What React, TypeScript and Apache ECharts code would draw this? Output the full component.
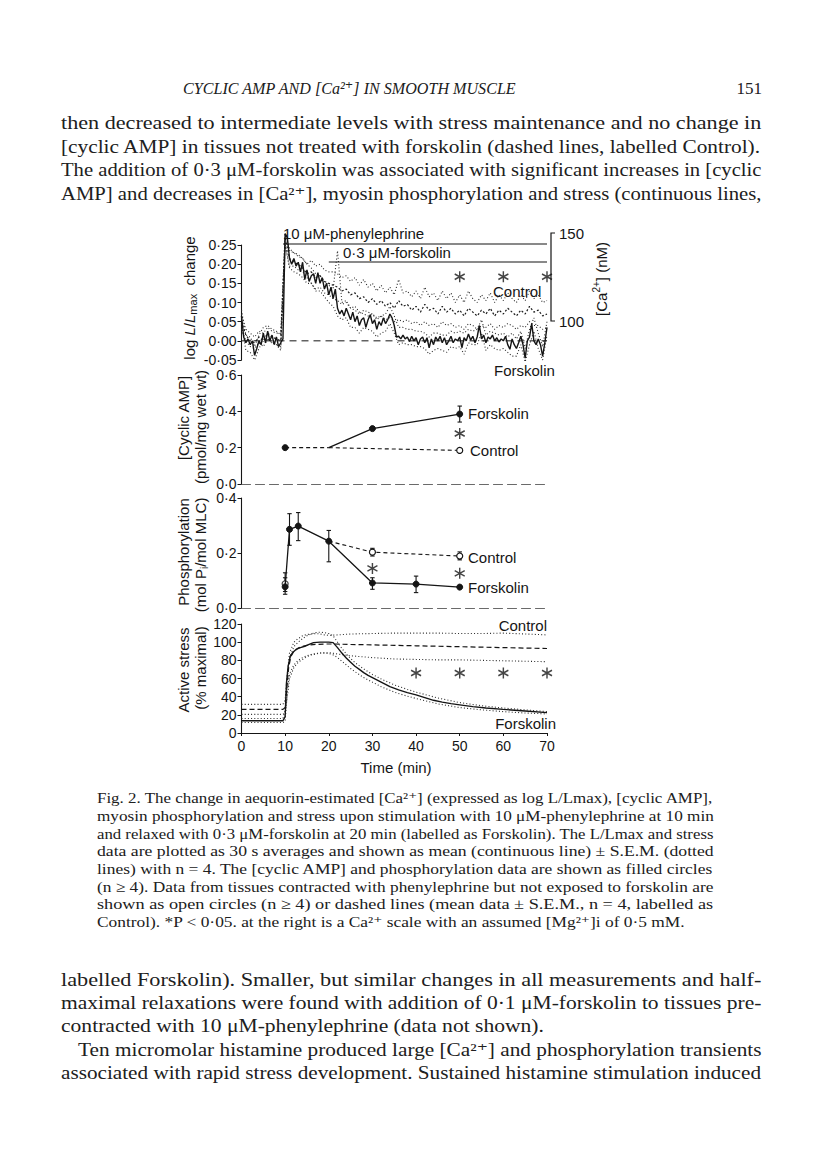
import React, { useEffect, useRef } from 'react';
import * as echarts from 'echarts';

const W = 816;
const H = 1167;
const SERIF = '"Liberation Serif", "DejaVu Serif", serif';
const SANS = '"Liberation Sans", Arial, sans-serif';
const INK = '#151515';
const LBL = 15; // label font size in the figure

// ---------------- Panel 1: aequorin light, log L/Lmax change ----------------
const caStep = 0.5; // 30 s averages (min)
const caForskMean = [
  0.065, 0.01, -0.005, 0.005, -0.01, 0.0, -0.038, -0.02, 0.0, -0.01,
  0.02, -0.005, 0.025, 0.0, 0.015, -0.01, 0.01, -0.015, -0.005, 0.005,
  0.28, 0.27, 0.215, 0.2, 0.215, 0.195, 0.205, 0.18, 0.205, 0.16,
  0.185, 0.155, 0.17, 0.175, 0.15, 0.178, 0.15, 0.165, 0.135, 0.15,
  0.12, 0.14, 0.11, 0.135, 0.085, 0.07, 0.08, 0.065, 0.085, 0.07,
  0.055, 0.075, 0.05, 0.065, 0.04, 0.055, 0.06, 0.035, 0.055, 0.068,
  0.045, 0.055, 0.03, 0.05, 0.04, 0.06, 0.045, 0.055, 0.07, 0.06,
  0.04, 0.01, 0.012, 0.005, 0.015, 0.005, 0.01, -0.002, 0.012, 0.0,
  0.008, -0.01, 0.005, 0.01, -0.005, 0.008, -0.018, 0.005, -0.01, 0.01,
  0.0, 0.012, -0.005, 0.008, -0.01, 0.0, 0.012, -0.005, 0.005, 0.0,
  0.01, -0.018, 0.008, 0.0, 0.018, 0.002, 0.012, -0.005, 0.01, 0.04,
  0.005, 0.015, -0.005, 0.01, 0.005, 0.015, 0.0, 0.008, -0.003, 0.005,
  0.0, 0.012, -0.01, -0.022, 0.005, -0.01, -0.02, -0.005, 0.012, -0.01,
  -0.045, 0.0, 0.01, 0.045, 0.0, -0.01, 0.005, -0.01, -0.04, -0.005,
  0.035,
];
// one value per minute, 0..70
const caForskUpper = [
  0.08, 0.015, 0.01, -0.015, 0.015, 0.035, 0.04, 0.03, 0.025, 0.015,
  0.28, 0.235, 0.23, 0.22, 0.215, 0.2, 0.19, 0.175, 0.17, 0.155,
  0.145, 0.135, 0.235, 0.1, 0.105, 0.085, 0.08, 0.07, 0.08, 0.075,
  0.07, 0.055, 0.065, 0.07, 0.09, 0.065, 0.035, 0.035, 0.03, 0.03,
  0.025, 0.025, 0.02, 0.01, 0.02, 0.02, 0.015, 0.015, 0.025, 0.02,
  0.025, 0.02, 0.03, 0.025, 0.03, 0.055, 0.015, 0.025, 0.02, 0.015,
  0.02, 0.01, 0.02, 0.005, 0.025, -0.02, 0.03, 0.06, 0.02, -0.015,
  0.05,
];
const caForskLower = [
  0.045, -0.025, -0.03, -0.05, -0.02, 0.0, 0.005, -0.005, -0.01, -0.025,
  0.25, 0.195, 0.195, 0.185, 0.18, 0.165, 0.15, 0.13, 0.13, 0.115,
  0.1, 0.09, 0.065, 0.055, 0.06, 0.035, 0.035, 0.02, 0.035, 0.03,
  0.025, 0.01, 0.02, 0.025, 0.045, 0.02, -0.01, -0.005, -0.01, -0.01,
  -0.015, -0.015, -0.02, -0.035, -0.025, -0.02, -0.025, -0.03, -0.015, -0.02,
  -0.015, -0.035, -0.005, -0.01, -0.01, 0.02, -0.025, -0.01, -0.02, -0.025,
  -0.02, -0.03, -0.04, -0.04, -0.01, -0.055, -0.01, 0.025, -0.02, -0.05,
  0.015,
];
const caCtrlMean = [
  0.05, 0.015, 0.0, -0.005, 0.01, 0.0, 0.02, 0.01, 0.005, 0.0,
  0.27, 0.215, 0.205, 0.2, 0.19, 0.175, 0.18, 0.165, 0.17, 0.155,
  0.15, 0.145, 0.14, 0.13, 0.135, 0.12, 0.125, 0.11, 0.115, 0.1,
  0.11, 0.095, 0.105, 0.09, 0.1, 0.085, 0.105, 0.09, 0.095, 0.08,
  0.09, 0.075, 0.095, 0.08, 0.085, 0.07, 0.09, 0.075, 0.085, 0.07,
  0.08, 0.065, 0.085, 0.075, 0.065, 0.08, 0.07, 0.085, 0.065, 0.08,
  0.07, 0.085, 0.075, 0.065, 0.08, 0.07, 0.09, 0.075, 0.08, 0.065,
  0.07,
];
const caCtrlUpper = [
  0.07, 0.03, 0.02, 0.01, 0.025, 0.02, 0.035, 0.025, 0.02, 0.02,
  0.28, 0.24, 0.23, 0.225, 0.215, 0.2, 0.21, 0.195, 0.2, 0.185,
  0.18, 0.18, 0.175, 0.165, 0.17, 0.155, 0.165, 0.145, 0.16, 0.14,
  0.15, 0.13, 0.145, 0.125, 0.14, 0.12, 0.16, 0.125, 0.13, 0.115,
  0.13, 0.11, 0.14, 0.115, 0.125, 0.105, 0.13, 0.11, 0.125, 0.1,
  0.12, 0.1, 0.13, 0.11, 0.1, 0.12, 0.105, 0.125, 0.1, 0.12,
  0.105, 0.125, 0.11, 0.1, 0.12, 0.105, 0.13, 0.11, 0.12, 0.1,
  0.105,
];
const caCtrlLower = [
  0.03, 0.0, -0.015, -0.02, -0.005, -0.015, 0.005, -0.005, -0.01, -0.015,
  0.25, 0.19, 0.18, 0.175, 0.165, 0.15, 0.15, 0.135, 0.14, 0.125,
  0.12, 0.11, 0.105, 0.095, 0.1, 0.085, 0.09, 0.075, 0.07, 0.065,
  0.07, 0.06, 0.065, 0.055, 0.06, 0.05, 0.055, 0.05, 0.055, 0.045,
  0.05, 0.04, 0.05, 0.04, 0.045, 0.035, 0.05, 0.04, 0.045, 0.035,
  0.04, 0.03, 0.045, 0.04, 0.03, 0.04, 0.035, 0.045, 0.03, 0.04,
  0.035, 0.045, 0.04, 0.03, 0.04, 0.035, 0.05, 0.04, 0.04, 0.03,
  0.035,
];
const caBaselineX = [0, 70];
const caStars = [[50, 0.167], [60, 0.167], [70, 0.167]];
const caTicks = { min: -0.05, max: 0.25, interval: 0.05 };
const caScaleLabels = ['150', '100'];

// ---------------- Panel 2: cyclic AMP ----------------
const campBaseX = [10, 20];
const campBaseY = [0.2, 0.2];
const campForskX = [20, 30, 50];
const campForskY = [0.2, 0.305, 0.385];
const campCtrlX = [20, 50];
const campCtrlY = [0.2, 0.185];
const campErr = [[50, 0.341, 0.429]];
const campStars = [[50, 0.278]];

// ---------------- Panel 3: phosphorylation ----------------
const phosForskX = [10, 11, 13, 20, 30, 40, 50];
const phosForskY = [0.077, 0.286, 0.298, 0.243, 0.091, 0.087, 0.076];
const phosCtrlX = [20, 30, 50];
const phosCtrlY = [0.243, 0.203, 0.189];
const phosCtrlStart = [[10, 0.088]];
const phosErrX = [10, 10, 11, 13, 20, 30, 30, 40, 50];
const phosErrLo = [0.05, 0.06, 0.228, 0.245, 0.168, 0.068, 0.189, 0.056, 0.175];
const phosErrHi = [0.11, 0.128, 0.343, 0.347, 0.282, 0.11, 0.217, 0.116, 0.204];
const phosStars = [[30, 0.144], [50, 0.126]];

// ---------------- Panel 4: active stress ----------------
const stressFTime = [0, 9.5, 10, 10.3, 10.7, 11.2, 11.8, 12.5, 13.5, 14.5, 15.5, 16.5, 18, 20, 21, 22, 23, 24, 25, 26, 27, 28, 29, 30, 32, 34, 36, 38, 40, 42, 44, 46, 48, 50, 53, 56, 60, 65, 70];
const stressF = [13.5, 13.5, 18, 55, 74, 85, 89, 92, 94, 95.5, 97.5, 99.5, 100, 100, 99.5, 94, 88, 82.5, 78, 73.5, 70, 66.5, 63.5, 61, 56, 51, 47.5, 44.5, 42, 39, 36, 34, 32.3, 31, 29, 27.5, 26, 24.2, 22.4];
const stressCTime = [0, 9.5, 10, 10.4, 10.8, 11.3, 12, 13, 14, 15.5, 17, 19, 21, 25, 30, 35, 40, 45, 50, 55, 60, 65, 70];
const stressC = [26, 26, 28, 50, 72, 84, 90, 93.5, 95.5, 97, 97.5, 98, 98, 97.5, 97, 96.5, 96, 95.5, 95, 94.5, 94, 93.5, 93];
const stressCUpTime = [0, 9.5, 10, 10.5, 11, 12, 13, 14, 15, 16, 17, 18, 19, 20, 22, 25, 30, 35, 40, 45, 50, 55, 60, 65, 70];
const stressCUp = [31.5, 31.5, 36, 65, 88, 100, 104, 107, 108.5, 109, 109.5, 109, 108, 107.5, 108, 109, 109.5, 110, 110, 110, 109.5, 109.5, 110, 109, 108];
const stressCLoTime = [0, 9.5, 10, 10.5, 11, 12, 13, 14, 15, 16, 18, 20, 22, 25, 30, 35, 40, 45, 50, 55, 60, 65, 70];
const stressCLo = [20.5, 20.5, 22, 40, 60, 72, 78, 81, 84, 86, 88, 88.5, 87, 85, 83, 81.5, 81, 80.5, 80.5, 80, 79.5, 79, 78.5];
const stressFBandTime = [0, 9.5, 10, 10.5, 11, 12, 13, 14, 15, 16, 17, 18, 19, 20, 21, 22, 23, 24, 25, 26, 28, 30, 32, 35, 38, 40, 45, 50, 55, 60, 65, 70];
const stressFUp = [16, 16, 24, 62, 82, 95, 100, 104, 107, 109, 110.5, 111, 110.5, 109.5, 107, 100, 93, 87, 82, 77.5, 70.5, 64.5, 59.5, 53, 48, 45, 38.5, 33.5, 30, 27.5, 25.5, 23.5];
const stressFLo = [11.5, 11.5, 13, 45, 65, 75, 80, 83, 85, 86.5, 87.5, 88, 88, 87.5, 86, 83, 79, 75, 71, 67.5, 61, 56, 51, 45, 40.5, 38, 32, 28, 25.5, 23.5, 22, 21];
const stressStars = [[40, 66], [50, 66], [60, 66], [70, 66]];

// ---------------- Page text ----------------
const HEADER = 'CYCLIC AMP AND [Ca²⁺] IN SMOOTH MUSCLE';
const PAGE_NO = '151';
const PARA1 = [
  'then decreased to intermediate levels with stress maintenance and no change in',
  '[cyclic AMP] in tissues not treated with forskolin (dashed lines, labelled Control).',
  'The addition of 0·3 μM-forskolin was associated with significant increases in [cyclic',
  'AMP] and decreases in [Ca²⁺], myosin phosphorylation and stress (continuous lines,',
];
const CAPTION = [
  'Fig. 2. The change in aequorin-estimated [Ca²⁺] (expressed as log L/Lmax), [cyclic AMP],',
  'myosin phosphorylation and stress upon stimulation with 10 μM-phenylephrine at 10 min',
  'and relaxed with 0·3 μM-forskolin at 20 min (labelled as Forskolin). The L/Lmax and stress',
  'data are plotted as 30 s averages and shown as mean (continuous line) ± S.E.M. (dotted',
  'lines) with n = 4. The [cyclic AMP] and phosphorylation data are shown as filled circles',
  '(n ≥ 4). Data from tissues contracted with phenylephrine but not exposed to forskolin are',
  'shown as open circles (n ≥ 4) or dashed lines (mean data ± S.E.M., n = 4, labelled as',
  'Control). *P < 0·05. at the right is a Ca²⁺ scale with an assumed [Mg²⁺]i of 0·5 mM.',
];
const PARA2 = [
  'labelled Forskolin). Smaller, but similar changes in all measurements and half-',
  'maximal relaxations were found with addition of 0·1 μM-forskolin to tissues pre-',
  'contracted with 10 μM-phenylephrine (data not shown).',
  'Ten micromolar histamine produced large [Ca²⁺] and phosphorylation transients',
  'associated with rapid stress development. Sustained histamine stimulation induced',
];

// ---------------- Layout ----------------
const GRIDS = [
  { left: 241.5, top: 245, width: 305.5, height: 115 },
  { left: 241.5, top: 375, width: 305.5, height: 109 },
  { left: 241.5, top: 498, width: 305.5, height: 110 },
  { left: 241.5, top: 624, width: 305.5, height: 109 },
];
const PARA1_Y = [123, 147, 170, 194];
const CAPTION_Y = [798, 816, 834, 851, 869, 887, 904, 922];
const PARA2_Y = [980, 1003, 1026, 1050, 1073];
const PARA2_X = [61, 61, 61, 78, 61];
const PARA2_JUST = [true, true, false, true, true];

const pairs = (xs: number[], ys: number[]) => xs.map((x, i) => [x, ys[i]]);
const minutePairs = (ys: number[]) => ys.map((v, i) => [i, v]);
const halfPairs = (ys: number[]) => ys.map((v, i) => [i * caStep, v]);
const dotFmt = (d: number) => (v: number) => {
  const s = Math.abs(v).toFixed(d).replace('.', '·');
  return v < -1e-9 ? '-' + s : s;
};

const ASTERISK = 'path://M5,0 L5,10 M0.67,2.5 L9.33,7.5 M0.67,7.5 L9.33,2.5';

function errRender(params: any, api: any) {
  const x = api.value(0);
  const lo = api.coord([x, api.value(1)]);
  const hi = api.coord([x, api.value(2)]);
  const c = 2.2;
  const st = { stroke: INK, lineWidth: 1.1 };
  return {
    type: 'group',
    children: [
      { type: 'line', shape: { x1: lo[0], y1: lo[1], x2: hi[0], y2: hi[1] }, style: st },
      { type: 'line', shape: { x1: lo[0] - c, y1: lo[1], x2: lo[0] + c, y2: lo[1] }, style: st },
      { type: 'line', shape: { x1: hi[0] - c, y1: hi[1], x2: hi[0] + c, y2: hi[1] }, style: st },
    ],
  };
}

function buildOption(): any {
  const axisText = { fontFamily: SANS, fontSize: 14, color: INK };
  const dotted = { type: [1, 2.2], width: 1.1, color: '#2a2a2a' };
  const lineBase = (g: number) => ({ type: 'line', xAxisIndex: g, yAxisIndex: g, symbol: 'none', silent: true, clip: false });
  const filled = { color: INK, borderColor: INK, borderWidth: 1 };
  const open = { color: '#fff', borderColor: INK, borderWidth: 1.2 };
  const stars = (g: number, data: number[][]) => ({
    type: 'scatter', xAxisIndex: g, yAxisIndex: g, data, symbol: ASTERISK, symbolSize: [10, 11],
    itemStyle: { color: 'rgba(0,0,0,0)', borderColor: INK, borderWidth: 1.5 }, z: 5,
  });
  const err = (g: number, data: number[][]) => ({
    type: 'custom', xAxisIndex: g, yAxisIndex: g, data, renderItem: errRender, encode: { x: 0, y: [1, 2] }, z: 3,
  });

  const yAxes = [
    { ...caTicks, fmt: dotFmt(2) },
    { min: 0, max: 0.6, interval: 0.2, fmt: dotFmt(1) },
    { min: 0, max: 0.4, interval: 0.2, fmt: dotFmt(1) },
    { min: 0, max: 120, interval: 20, fmt: (v: number) => String(v) },
  ];

  return {
    animation: false,
    backgroundColor: '#fff',
    textStyle: { fontFamily: SANS },
    grid: GRIDS.map((g) => ({ ...g, containLabel: false })),
    xAxis: [0, 1, 2, 3].map((i) => ({
      gridIndex: i,
      type: 'value',
      min: 0,
      max: 70,
      interval: 10,
      show: i !== 0,
      axisLine: i === 3
        ? { lineStyle: { color: INK, width: 1.1 } }
        : { lineStyle: { color: '#6a6a6a', width: 1.1, type: [9, 5] } },
      axisTick: i === 3 ? { show: true, length: 3, lineStyle: { color: INK } } : { show: false },
      axisLabel: i === 3 ? { ...axisText, margin: 6 } : { show: false },
      splitLine: { show: false },
    })),
    yAxis: yAxes.map((a, i) => ({
      gridIndex: i,
      type: 'value',
      min: a.min,
      max: a.max,
      interval: a.interval,
      axisLine: { show: true, lineStyle: { color: INK, width: 1.1 } },
      axisTick: { show: true, length: 4, lineStyle: { color: INK } },
      axisLabel: { ...axisText, margin: 5, formatter: a.fmt, showMaxLabel: true },
      splitLine: { show: false },
    })),
    series: [
      // panel 1
      { ...lineBase(0), data: caBaselineX.map((x) => [x, 0]), lineStyle: { type: [7, 5], width: 1, color: INK }, z: 1 },
      { ...lineBase(0), data: minutePairs(caCtrlUpper), lineStyle: dotted, z: 2 },
      { ...lineBase(0), data: minutePairs(caCtrlLower), lineStyle: dotted, z: 2 },
      { ...lineBase(0), data: minutePairs(caForskUpper), lineStyle: dotted, z: 2 },
      { ...lineBase(0), data: minutePairs(caForskLower), lineStyle: dotted, z: 2 },
      { ...lineBase(0), data: minutePairs(caCtrlMean), lineStyle: { type: [2, 2], width: 1.2, color: '#1a1a1a' }, z: 3 },
      { ...lineBase(0), data: halfPairs(caForskMean), lineStyle: { width: 1.4, color: INK }, z: 4 },
      stars(0, caStars),
      // panel 2
      {
        type: 'line', xAxisIndex: 1, yAxisIndex: 1, symbol: 'circle', symbolSize: 6, showSymbol: true,
        data: pairs(campBaseX, campBaseY).map((p, i) => (i === 0 ? { value: p } : { value: p, symbol: 'none' })),
        lineStyle: { type: [4, 3], width: 1.1, color: INK }, itemStyle: filled, z: 3,
      },
      {
        type: 'line', xAxisIndex: 1, yAxisIndex: 1, symbol: 'circle', symbolSize: 6, showSymbol: true,
        data: pairs(campForskX, campForskY).map((p, i) => (i === 0 ? { value: p, symbol: 'none' } : { value: p })),
        lineStyle: { width: 1.3, color: INK }, itemStyle: filled, z: 3,
      },
      {
        type: 'line', xAxisIndex: 1, yAxisIndex: 1, symbol: 'circle', symbolSize: 6, showSymbol: true,
        data: pairs(campCtrlX, campCtrlY).map((p, i) => (i === 0 ? { value: p, symbol: 'none' } : { value: p })),
        lineStyle: { type: [4, 3], width: 1.1, color: INK }, itemStyle: open, z: 3,
      },
      err(1, campErr),
      stars(1, campStars),
      // panel 3
      err(2, phosErrX.map((x, i) => [x, phosErrLo[i], phosErrHi[i]])),
      {
        type: 'line', xAxisIndex: 2, yAxisIndex: 2, symbol: 'circle', symbolSize: 6, showSymbol: true,
        data: pairs(phosCtrlX, phosCtrlY).map((p, i) => (i === 0 ? { value: p, symbol: 'none' } : { value: p })),
        lineStyle: { type: [4, 3], width: 1.1, color: INK }, itemStyle: open, z: 4,
      },
      {
        type: 'scatter', xAxisIndex: 2, yAxisIndex: 2, symbol: 'circle', symbolSize: 6,
        data: phosCtrlStart, itemStyle: open, z: 4,
      },
      {
        type: 'line', xAxisIndex: 2, yAxisIndex: 2, symbol: 'circle', symbolSize: 6, showSymbol: true,
        data: pairs(phosForskX, phosForskY), lineStyle: { width: 1.3, color: INK }, itemStyle: filled, z: 5,
      },
      stars(2, phosStars),
      // panel 4
      { ...lineBase(3), data: pairs(stressCUpTime, stressCUp), lineStyle: dotted, z: 2 },
      { ...lineBase(3), data: pairs(stressCLoTime, stressCLo), lineStyle: dotted, z: 2 },
      { ...lineBase(3), data: pairs(stressFBandTime, stressFUp), lineStyle: dotted, z: 2 },
      { ...lineBase(3), data: pairs(stressFBandTime, stressFLo), lineStyle: dotted, z: 2 },
      { ...lineBase(3), data: pairs(stressCTime, stressC), lineStyle: { type: [5, 3], width: 1.2, color: INK }, z: 3 },
      { ...lineBase(3), data: pairs(stressFTime, stressF), lineStyle: { width: 1.4, color: INK }, z: 4 },
      stars(3, stressStars),
    ],
  };
}

function txt(x: number, y: number, text: string, size: number, opts: any = {}): any {
  const { family = SANS, align = 'left', valign = 'middle', rotation = 0, scaleX = 1, fontStyle = 'normal', rich, fill = INK } = opts;
  const style: any = {
    text, fontFamily: family, fontSize: size, fontStyle, fill,
    textAlign: align, textVerticalAlign: valign, align, verticalAlign: valign,
  };
  if (rich) style.rich = rich;
  return { type: 'text', x, y, rotation, scaleX, silent: true, style };
}

function buildGraphics(chart: any): any[] {
  const els: any[] = [];
  const canvas = document.createElement('canvas');
  const ctx = canvas.getContext('2d')!;
  const measure = (t: string, font: string) => {
    ctx.font = font;
    return ctx.measureText(t).width;
  };
  const PAGE_INK = '#202020';

  // Running header
  const hFont = `italic 17px ${SERIF}`;
  const hScale = 334 / measure(HEADER, hFont);
  els.push(txt(183, 88, HEADER, 17, { family: SERIF, fontStyle: 'italic', scaleX: hScale, fill: PAGE_INK }));
  els.push(txt(762, 88, PAGE_NO, 17, { family: SERIF, align: 'right', fill: PAGE_INK }));

  const block = (lines: string[], ys: number[], xs: number[], just: boolean[], right: number, size: number) => {
    const font = `${size}px ${SERIF}`;
    const scales = lines.map((l, i) => (just[i] ? (right - xs[i]) / measure(l, font) : 0));
    const js = scales.filter((s) => s > 0);
    const avg = js.reduce((a, b) => a + b, 0) / js.length;
    lines.forEach((l, i) => {
      els.push(txt(xs[i], ys[i], l, size, { family: SERIF, scaleX: scales[i] > 0 ? scales[i] : avg, fill: PAGE_INK }));
    });
  };
  block(PARA1, PARA1_Y, PARA1.map(() => 61), PARA1.map(() => true), 762, 18);
  block(CAPTION, CAPTION_Y, CAPTION.map(() => 97), CAPTION.map((_, i) => i < CAPTION.length - 1), 714, 15);
  block(PARA2, PARA2_Y, PARA2_X, PARA2_JUST, 762, 18);

  // Drug application bars (top panel)
  const px = (t: number) => chart.convertToPixel({ gridIndex: 0 }, [t, 0])[0];
  const lineSt = { stroke: INK, lineWidth: 1.2 };
  els.push({ type: 'line', silent: true, shape: { x1: px(9.5), y1: 244, x2: px(70), y2: 244 }, style: lineSt });
  els.push({ type: 'line', silent: true, shape: { x1: px(20), y1: 262, x2: px(70), y2: 262 }, style: lineSt });
  els.push(txt(px(9.5), 233, '10 μM-phenylephrine', LBL));
  els.push(txt(343, 252, '0·3 μM-forskolin', LBL));

  // Ca2+ scale on the right
  els.push({ type: 'polyline', silent: true, shape: { points: [[555, 233], [551, 233], [551, 321], [555, 321]] }, style: { stroke: INK, lineWidth: 1.2, fill: 'none' } });
  els.push(txt(559, 233, caScaleLabels[0], LBL));
  els.push(txt(559, 321, caScaleLabels[1], LBL));
  els.push(txt(601, 279, '{a|[Ca}{s|2+}{a|] (nM)}', LBL, {
    align: 'center', rotation: Math.PI / 2,
    rich: { a: { fontSize: LBL, fontFamily: SANS, fill: INK, lineHeight: 19 }, s: { fontSize: 10, fontFamily: SANS, fill: INK, lineHeight: 19, verticalAlign: 'top' } },
  }));

  // Y axis titles
  const rot = Math.PI / 2;
  els.push(txt(189, 298, '{n|log }{i|L}{n|/}{i|L}{s|max}{n|  change}', LBL, {
    align: 'center', rotation: rot,
    rich: {
      n: { fontSize: LBL, fontFamily: SANS, fill: INK, lineHeight: 19 },
      i: { fontSize: LBL, fontFamily: SANS, fontStyle: 'italic', fill: INK, lineHeight: 19 },
      s: { fontSize: 11, fontFamily: SANS, fill: INK, lineHeight: 19, verticalAlign: 'bottom' },
    },
  }));
  els.push(txt(183, 418, '[Cyclic AMP]', LBL, { align: 'center', rotation: rot }));
  els.push(txt(200, 427, '(pmol/mg wet wt)', LBL, { align: 'center', rotation: rot }));
  els.push(txt(183, 552, 'Phosphorylation', LBL, { align: 'center', rotation: rot }));
  els.push(txt(200, 555, '{n|(mol P}{s|i}{n|/mol MLC)}', LBL, {
    align: 'center', rotation: rot,
    rich: {
      n: { fontSize: LBL, fontFamily: SANS, fill: INK, lineHeight: 19 },
      s: { fontSize: 10, fontFamily: SANS, fill: INK, lineHeight: 19, verticalAlign: 'bottom' },
    },
  }));
  els.push(txt(183, 670, 'Active stress', LBL, { align: 'center', rotation: rot }));
  els.push(txt(200, 668, '(% maximal)', LBL, { align: 'center', rotation: rot }));

  // Series labels
  els.push(txt(493, 291, 'Control', LBL));
  els.push(txt(494, 370, 'Forskolin', LBL));
  els.push(txt(468, 413, 'Forskolin', LBL));
  els.push(txt(470, 450, 'Control', LBL));
  els.push(txt(468, 557, 'Control', LBL));
  els.push(txt(468, 587, 'Forskolin', LBL));
  els.push(txt(547, 625, 'Control', LBL, { align: 'right' }));
  els.push(txt(556, 723, 'Forskolin', LBL, { align: 'right' }));
  els.push(txt(396, 767, 'Time (min)', LBL, { align: 'center' }));

  return els;
}

export default function App() {
  const ref = useRef<HTMLDivElement>(null);
  useEffect(() => {
    const el = ref.current;
    if (!el) return;
    const chart = echarts.init(el, undefined, { renderer: 'svg', width: W, height: H });
    chart.setOption(buildOption());
    chart.setOption({ graphic: buildGraphics(chart) });
    return () => chart.dispose();
  }, []);
  return (
    <div
      ref={ref}
      style={{ position: 'absolute', left: 0, top: 0, width: W, height: H, background: '#fff' }}
    />
  );
}
